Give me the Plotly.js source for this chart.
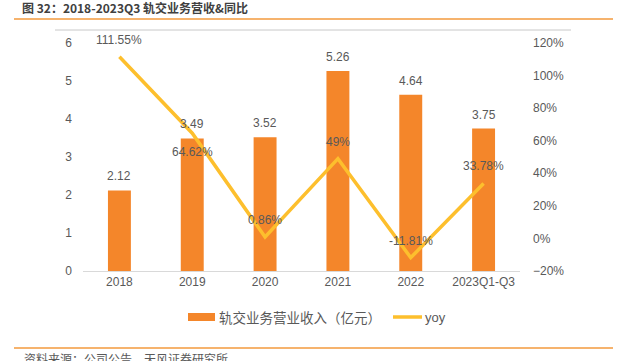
<!DOCTYPE html>
<html>
<head>
<meta charset="utf-8">
<script src="https://cdn.plot.ly/plotly-3.0.1.min.js"></script>
<style>html,body{margin:0;padding:0;background:#fff;}#chart{width:627px;height:361px;}</style>
</head>
<body>
<div id="chart"></div>
<script>
const categories = ['2018', '2019', '2020', '2021', '2022', '2023Q1-Q3'];
const revenue = [2.12, 3.49, 3.52, 5.26, 4.64, 3.75];
const yoy = [1.1155, 0.6462, 0.0086, 0.49, -0.1181, 0.3378];
const revenueLabels = ['2.12', '3.49', '3.52', '5.26', '4.64', '3.75'];
const yoyLabels = ['111.55%', '64.62%', '0.86%', '49%', '-11.81%', '33.78%'];
const yoyLabelBelow = [false, true, false, false, false, false];
const seriesNames = ['轨交业务营业收入（亿元）', 'yoy'];

const W = 627, H = 361;
const L = 83, R = 520, T = 43, B = 271;
const px2x = p => (p - L) / (R - L);
const px2y = p => (B - p) / (B - T);

const gray = '#595959';
const barColor = '#F4862A';
const lineColor = '#FDBF2D';
const latin = 'Liberation Sans, Arial, sans-serif';
const cjk = 'Noto Sans CJK SC, sans-serif';

const traces = [
  {
    type: 'bar', x: categories, y: revenue, name: seriesNames[0],
    marker: {color: barColor}, yaxis: 'y', hoverinfo: 'none', showlegend: false
  },
  {
    type: 'scatter', mode: 'lines', x: categories, y: yoy, name: seriesNames[1],
    line: {color: lineColor, width: 3.5}, yaxis: 'y2', hoverinfo: 'none', showlegend: false
  }
];

const annotations = [];
categories.forEach((c, i) => {
  annotations.push({x: i, y: revenue[i], xref: 'x', yref: 'y', text: revenueLabels[i],
    showarrow: false, yanchor: 'middle', yshift: 14, font: {family: latin, size: 12, color: gray}});
  annotations.push({x: i, y: yoy[i], xref: 'x', yref: 'y2', text: yoyLabels[i],
    showarrow: false, yanchor: 'middle', yshift: yoyLabelBelow[i] ? -19 : 17,
    font: {family: latin, size: 12, color: gray}});
});
annotations.push({xref: 'paper', yref: 'paper', x: px2x(22), y: px2y(358), xanchor: 'left', yanchor: 'middle',
  text: '资料来源：公司公告，天风证券研究所', showarrow: false, font: {family: cjk, size: 12, color: gray}});
// legend texts
annotations.push({xref: 'paper', yref: 'paper', x: px2x(217), y: px2y(317), xanchor: 'left', yanchor: 'middle',
  text: seriesNames[0], showarrow: false, font: {family: cjk, size: 13.5, color: gray}});
annotations.push({xref: 'paper', yref: 'paper', x: px2x(423), y: px2y(317), xanchor: 'left', yanchor: 'middle',
  text: seriesNames[1], showarrow: false, font: {family: latin, size: 13, color: gray}});

const layout = {
  width: W, height: H,
  margin: {l: L, r: W - R, t: T, b: H - B, pad: 0},
  paper_bgcolor: '#fff', plot_bgcolor: '#fff',
  title: {text: '<b>图 32：2018-2023Q3 轨交业务营收&同比</b>', xref: 'container', yref: 'container',
    x: 22 / W, xanchor: 'left', y: 1 - 9 / H, yanchor: 'middle',
    font: {family: cjk, size: 12, color: '#404040'}},
  bargap: 0.685,
  showlegend: false,
  xaxis: {type: 'category', range: [-0.5, categories.length - 0.5], showline: true, linecolor: '#D9D9D9', linewidth: 1, ticks: '',
    showgrid: false, zeroline: false, tickfont: {family: latin, size: 12, color: gray}},
  yaxis: {range: [0, 6], dtick: 1, showgrid: false, zeroline: false, showline: false, ticks: '',
    ticklabelstandoff: 10, tickfont: {family: latin, size: 12, color: gray}},
  yaxis2: {range: [-0.2, 1.2], dtick: 0.2, tickformat: '.0%', overlaying: 'y', side: 'right',
    showgrid: false, zeroline: false, showline: false, ticks: '', ticklabelstandoff: 12,
    tickfont: {family: latin, size: 12, color: gray}},
  annotations: annotations,
  shapes: [
    {type: 'line', xref: 'paper', yref: 'paper', x0: px2x(14), x1: px2x(613), y0: px2y(19), y1: px2y(19),
      line: {color: '#F39A3C', width: 1.5}},
    {type: 'line', xref: 'paper', yref: 'paper', x0: px2x(55), x1: px2x(571), y0: px2y(30), y1: px2y(30),
      line: {color: '#C8C8C8', width: 1}},
    {type: 'line', xref: 'paper', yref: 'paper', x0: px2x(14), x1: px2x(613), y0: px2y(348), y1: px2y(348),
      line: {color: '#F39A3C', width: 1.5}},
    {type: 'rect', xref: 'paper', yref: 'paper', x0: px2x(188), x1: px2x(215), y0: px2y(313), y1: px2y(321),
      fillcolor: barColor, line: {width: 0}},
    {type: 'line', xref: 'paper', yref: 'paper', x0: px2x(393), x1: px2x(422), y0: px2y(317), y1: px2y(317),
      line: {color: lineColor, width: 3.5}}
  ]
};

Plotly.newPlot('chart', traces, layout, {displayModeBar: false, staticPlot: true});
</script>
</body>
</html>
